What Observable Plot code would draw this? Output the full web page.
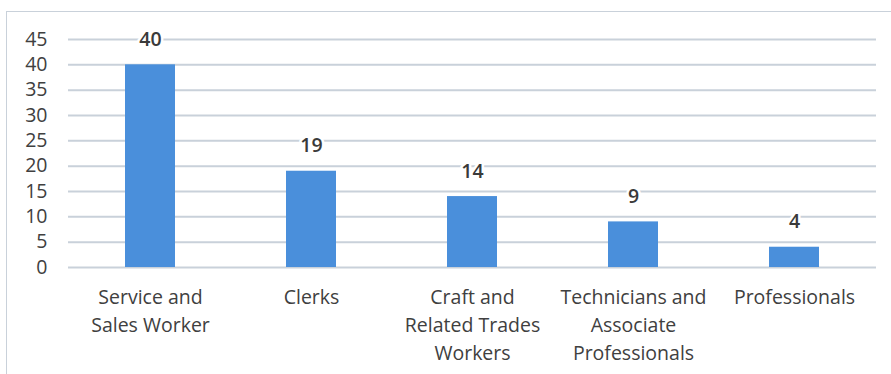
<!DOCTYPE html>
<html>
<head>
<meta charset="utf-8">
<script src="https://cdn.jsdelivr.net/npm/d3@7"></script>
<script src="https://cdn.jsdelivr.net/npm/@observablehq/plot@0.6"></script>
<style>
  html, body { margin: 0; padding: 0; background: #fff; }
  #wrap { position: relative; width: 891px; height: 374px; overflow: hidden; }
  #border { position: absolute; left: 6px; top: 11px; width: 900px; height: 400px;
            border-left: 1.5px solid #c9d1da; border-top: 1.5px solid #c9d1da; pointer-events: none; }
</style>
</head>
<body>
<div id="wrap"><div id="border"></div></div>
<script>
const categories = ["Service and Sales Worker", "Clerks", "Craft and Related Trades Workers", "Technicians and Associate Professionals", "Professionals"];
const values = [40, 19, 14, 9, 4];
const tickLabels = ["Service and\nSales Worker", "Clerks", "Craft and\nRelated Trades\nWorkers", "Technicians and\nAssociate\nProfessionals", "Professionals"];
const yTicks = [0, 5, 10, 15, 20, 25, 30, 35, 40, 45];

const data = categories.map((c, i) => ({category: c, value: values[i], label: tickLabels[i]}));

const chart = Plot.plot({
  width: 891,
  height: 374,
  marginLeft: 68,
  marginRight: 15,
  marginTop: 39,
  marginBottom: 107,
  style: {fontFamily: "'Open Sans', sans-serif", background: "transparent", overflow: "visible"},
  x: {domain: categories, paddingInner: 0.69, paddingOuter: 0.345, axis: null},
  y: {domain: [0, 45], axis: null},
  marks: [
    Plot.ruleY(yTicks, {stroke: "#c9d1da", strokeWidth: 2}),
    Plot.axisY({ticks: yTicks, tickSize: 0, tickPadding: 21, fontSize: 19.5, color: "#404040", label: null}),
    Plot.barY(data, {x: "category", y: "value", fill: "#4a8fdb"}),
    Plot.text(data, {x: "category", y: "value", text: d => String(d.value), dy: -25,
      fontSize: 19.5, fill: "#3a3a3a", fontWeight: 600, stroke: "white", strokeWidth: 5, paintOrder: "stroke"}),
    Plot.text(data, {x: "category", y: () => 0, text: "label", lineAnchor: "top", dy: 17,
      lineHeight: 1.42, fontSize: 19.5, fill: "#404040"})
  ]
});
document.getElementById("wrap").prepend(chart);
</script>
</body>
</html>
